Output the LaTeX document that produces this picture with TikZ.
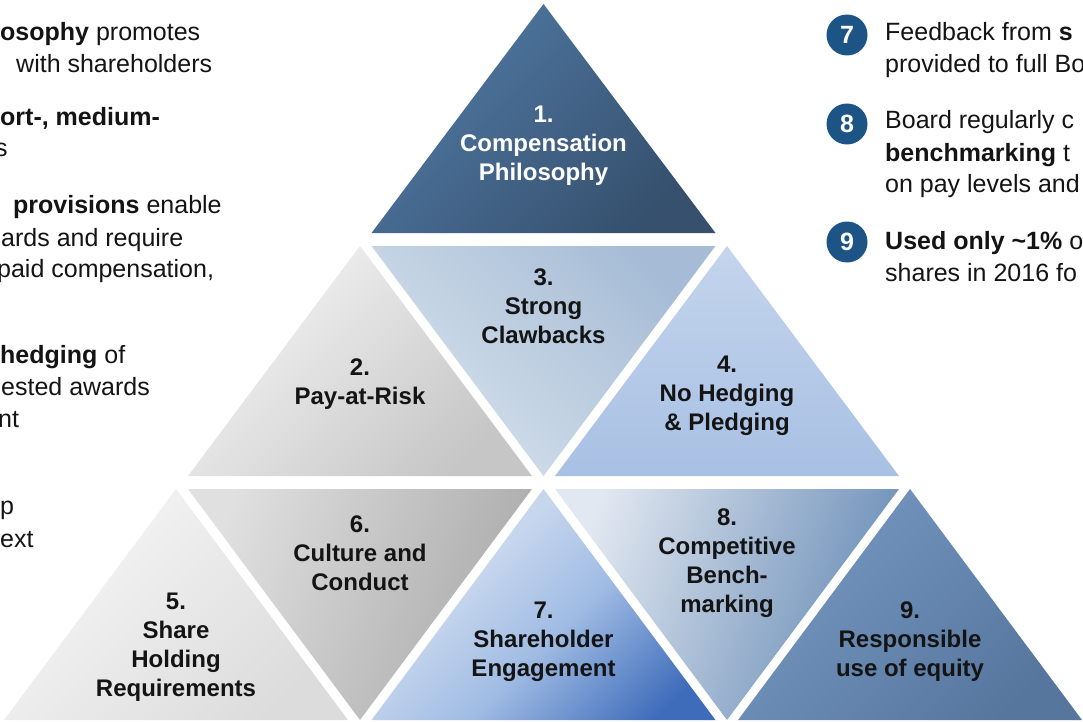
\documentclass[tikz,border=0pt]{standalone}
\usepackage{fontspec}
\setmainfont{Liberation Sans}
\definecolor{numblue}{RGB}{28,84,134}
\definecolor{txt}{RGB}{20,20,20}
\definecolor{cA1}{RGB}{80,121,163}
\definecolor{cA2}{RGB}{54,80,110}
\definecolor{cB1}{RGB}{244,244,244}
\definecolor{cB2}{RGB}{198,198,198}
\definecolor{cC1}{RGB}{166,188,214}
\definecolor{cC2}{RGB}{214,225,236}
\definecolor{cD1}{RGB}{196,213,236}
\definecolor{cD2}{RGB}{168,192,228}
\definecolor{cE1}{RGB}{246,246,246}
\definecolor{cE2}{RGB}{220,220,220}
\definecolor{cF1}{RGB}{224,224,224}
\definecolor{cF2}{RGB}{170,170,170}
\definecolor{cG1}{RGB}{198,214,237}
\definecolor{cGm}{RGB}{160,188,228}
\definecolor{cG2}{RGB}{62,108,186}
\definecolor{cH1}{RGB}{226,232,241}
\definecolor{cH2}{RGB}{104,140,182}
\definecolor{cI1}{RGB}{118,152,192}
\definecolor{cI2}{RGB}{86,118,158}
\pgfdeclareverticalshading{trisevensh}{100bp}{color(0bp)=(cG2); color(22bp)=(cG2); color(45bp)=(cGm); color(62bp)=(cG1); color(100bp)=(cG1)}
\begin{document}
\begin{tikzpicture}[x=1pt,y=-1pt,
  lbl/.style={align=center,text=txt,inner sep=0pt,font=\fontsize{24}{29}\selectfont\bfseries},
  body/.style={anchor=base west,inner sep=0pt,text=txt,font=\fontsize{25}{32}\selectfont},
  num/.style={circle,fill=numblue,minimum size=41pt,inner sep=0pt,text=white,font=\fontsize{25}{25}\selectfont\bfseries}]
\useasboundingbox (0,0) rectangle (1083,722);
\clip (0,0) rectangle (1083,722);
% row 1
\shade[top color=cA1,bottom color=cA2,shading angle=45] (543.5,4) -- (715.5,233) -- (371.5,233) -- cycle;
% row 2
\shade[top color=cB1,bottom color=cB2,shading angle=45] (360,246) -- (532,476) -- (188,476) -- cycle;
\shade[top color=cC1,bottom color=cC2,shading angle=-45] (371.5,246) -- (715.5,246) -- (543.5,476) -- cycle;
\shade[top color=cD1,bottom color=cD2] (727,246) -- (899,476) -- (555,476) -- cycle;
% row 3
\shade[top color=cE1,bottom color=cE2,shading angle=45] (176,489) -- (348,720) -- (4,720) -- cycle;
\shade[top color=cF1,bottom color=cF2,shading angle=70] (188,489) -- (532,489) -- (360,720) -- cycle;
\shade[shading=trisevensh,shading angle=45] (543.5,489) -- (715.5,720) -- (371.5,720) -- cycle;
\shade[top color=cH1,bottom color=cH2,shading angle=70] (555,489) -- (899,489) -- (727,720) -- cycle;
\shade[top color=cI1,bottom color=cI2,shading angle=45] (910,489) -- (1082,720) -- (738,720) -- cycle;
% labels
\node[lbl,text=white] (t1) at (543.5,146) {1.\\Compensation\\Philosophy};
\node[lbl] (t2) at (360,384) {2.\\Pay-at-Risk};
\node[lbl] (t3) at (543.5,306) {3.\\Strong\\Clawbacks};
\node[lbl] (t4) at (727,396) {4.\\No Hedging\\\& Pledging};
\node[lbl] (t5) at (176,647) {5.\\Share\\Holding\\Requirements};
\node[lbl] (t6) at (360,553) {6.\\Culture and\\Conduct};
\node[lbl] (t7) at (543.5,642) {7.\\Shareholder\\Engagement};
\node[lbl] (t8) at (727,563) {8.\\Competitive\\Bench-\\marking};
\node[lbl] (t9) at (910,642) {9.\\Responsible\\use of equity};
% left text
\node[body] (l1) at (0,41) {\textbf{osophy} promotes};
\node[body] (l2) at (16,73) {with shareholders};
\node[body] (l3) at (0,126) {\textbf{ort-, medium-}};
\node[body] (l4) at (-5,157) {s};
\node[body] (l5) at (13,213) {\textbf{provisions} enable};
\node[body] (l6) at (1,246) {ards and require};
\node[body] (l7) at (-3,277) {paid compensation,};
\node[body] (l8) at (0,363) {\textbf{hedging} of};
\node[body] (l9) at (1,395) {ested awards};
\node[body] (l10) at (-2,427) {nt};
\node[body] (l11) at (0,514) {p};
\node[body] (l12) at (0,547) {ext};
% right list
\node[num] (n7) at (847,35) {7};
\node[num] (n8) at (847,124) {8};
\node[num] (n9) at (847,242) {9};
\node[body] (r1) at (885,41) {Feedback from \textbf{s}};
\node[body] (r2) at (885,73) {provided to full Bo};
\node[body] (r3) at (885,129) {Board regularly c};
\node[body] (r4) at (885,161) {\textbf{benchmarking} t};
\node[body] (r5) at (885,193) {on pay levels and};
\node[body] (r6) at (885,249) {\textbf{Used only \textasciitilde1\%} o};
\node[body] (r7) at (885,281) {shares in 2016 fo};
\end{tikzpicture}
\end{document}
